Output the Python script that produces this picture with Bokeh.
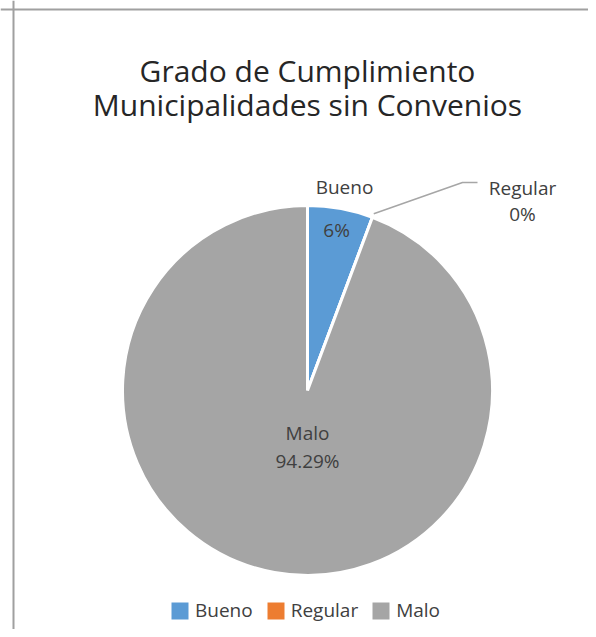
import math
from bokeh.plotting import figure
from bokeh.models import ColumnDataSource, Span, Legend, LegendItem
from bokeh.core.properties import value
from bokeh.embed import file_html
from bokeh.resources import INLINE

# ---- data ----
categories = ["Bueno", "Regular", "Malo"]
percentages = [5.71, 0.0, 94.29]
value_labels = ["6%", "0%", "94.29%"]
colors = ["#5B9BD5", "#ED7D31", "#A5A5A5"]
title_lines = ["Grado de Cumplimiento", "Municipalidades sin Convenios"]

W, H = 588, 629
FONT = "Open Sans"
TXT = "#404040"
FS = "19px"

p = figure(width=W, height=H, output_backend="svg", toolbar_location=None,
           x_range=(0, W), y_range=(0, H), min_border=0)
p.axis.visible = False
p.grid.visible = False
p.outline_line_color = None
p.background_fill_color = "white"
p.border_fill_color = "white"

cx, cy, R = 307, H - 390, 185

# angles: start at top, clockwise
total = sum(percentages)
starts, ends, mids = [], [], []
a = math.pi / 2
EPS = 1e-4
for v in percentages:
    sweep = max(2 * math.pi * v / total, EPS)
    starts.append(a - sweep)
    ends.append(a)
    mids.append(a - sweep / 2)
    a -= 2 * math.pi * v / total

src = ColumnDataSource(dict(cat=categories, start=starts, end=ends, color=colors))
r = p.wedge(x=cx, y=cy, radius=R, start_angle="start", end_angle="end",
            fill_color="color", line_color="white", line_width=3, source=src)

# frame border (left and top, rest cut off)
p.add_layout(Span(location=13, dimension="height", line_color="#A0A0A0", line_width=2))
p.add_layout(Span(location=H - 9, dimension="width", line_color="#A0A0A0", line_width=2))

# title
p.text(x=[cx, cx], y=[H - 70, H - 104], text=title_lines,
       text_font=value(FONT), text_font_size="30px", text_color="#262626",
       text_align="center", text_baseline="middle")

# Bueno: name outside, value inside
bm = mids[0]
p.text(x=[cx + 1.12 * R * math.cos(bm)], y=[cy + 1.12 * R * math.sin(bm)],
       text=[categories[0]], text_font=value(FONT), text_font_size=FS,
       text_color=TXT, text_align="center", text_baseline="middle")
p.text(x=[cx + 0.88 * R * math.cos(bm)], y=[cy + 0.88 * R * math.sin(bm)],
       text=[value_labels[0]], text_font=value(FONT), text_font_size=FS,
       text_color=TXT, text_align="center", text_baseline="middle")

# Regular: moved out with leader line
ra = ends[1]
lx, ly = cx + 215, cy + 190
p.text(x=[lx, lx], y=[ly + 13, ly - 13], text=[categories[1], value_labels[1]],
       text_font=value(FONT), text_font_size=FS, text_color=TXT,
       text_align="center", text_baseline="middle")
x0, y0 = cx + 1.02 * R * math.cos(ra), cy + 1.02 * R * math.sin(ra)
p.line(x=[x0, cx + 155, cx + 170], y=[y0, cy + 208, cy + 208],
       line_color="#A6A6A6", line_width=1.5)

# Malo: inside
mx, my = cx, cy - 56
p.text(x=[mx, mx], y=[my + 14, my - 14], text=[categories[2], value_labels[2]],
       text_font=value(FONT), text_font_size=FS, text_color=TXT,
       text_align="center", text_baseline="middle")

# legend
legend = Legend(items=[LegendItem(label=c, renderers=[r], index=i) for i, c in enumerate(categories)],
                orientation="horizontal", location=(167, 6),
                label_text_font=FONT, label_text_font_size=FS, label_text_color=TXT,
                glyph_width=25, glyph_height=25, spacing=10, padding=0, margin=0,
                label_standoff=3, border_line_color=None, background_fill_alpha=0)
p.add_layout(legend)

open("out.html", "w").write(file_html(p, INLINE))
